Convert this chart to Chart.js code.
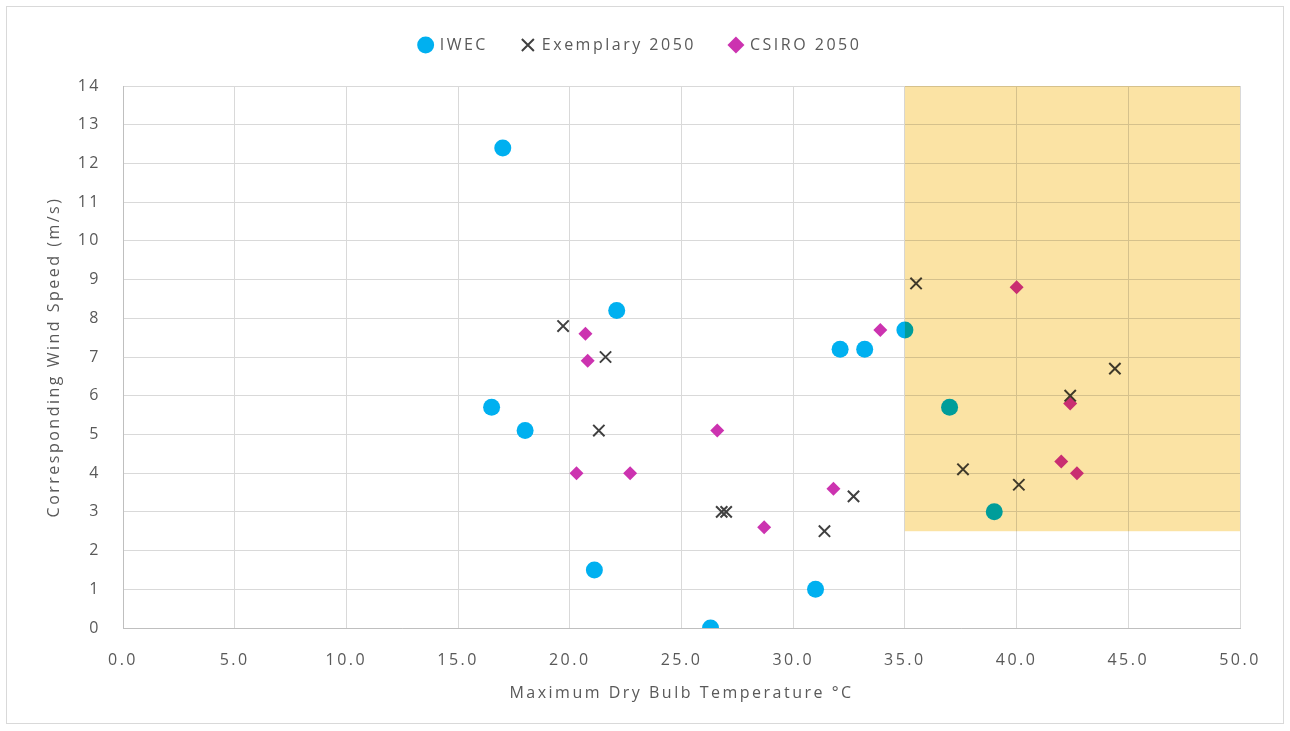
<!DOCTYPE html>
<html>
<head>
<meta charset="utf-8">
<script src="https://cdn.jsdelivr.net/npm/chart.js@4.4.1/dist/chart.umd.min.js"></script>
<style>
  body { margin: 0; background: #fff; }
  #wrap { position: absolute; left: 6px; top: 6px; width: 1276px; height: 716px; border: 1px solid #d9d9d9; }
  #c { position: absolute; left: 0; top: 0; }
</style>
</head>
<body>
<div id="wrap"></div>
<canvas id="c" width="1290" height="731"></canvas>
<script>
// series values (x = max dry bulb temp, y = wind speed)
const iwecX = [17.0, 22.1, 16.5, 18.0, 21.1, 26.3, 31.0, 32.1, 33.2, 35.0, 37.0, 39.0];
const iwecY = [12.4, 8.2, 5.7, 5.1, 1.5, 0.0, 1.0, 7.2, 7.2, 7.7, 5.7, 3.0];
const exemX = [19.7, 21.6, 21.3, 26.8, 27.0, 31.4, 32.7, 35.5, 44.4, 42.4, 37.6, 40.1];
const exemY = [7.8, 7.0, 5.1, 3.0, 3.0, 2.5, 3.4, 8.9, 6.7, 6.0, 4.1, 3.7];
const csiroX = [20.7, 20.8, 20.3, 22.7, 26.6, 28.7, 31.8, 33.9, 40.0, 42.4, 42.0, 42.7];
const csiroY = [7.6, 6.9, 4.0, 4.0, 5.1, 2.6, 3.6, 7.7, 8.8, 5.8, 4.3, 4.0];
const seriesNames = ["IWEC", "Exemplary 2050", "CSIRO 2050"];
// shaded zone: temp >= 35, wind >= 2.5
const zoneX = [35, 50];
const zoneY = [2.5, 14];

const pts = (xs, ys) => xs.map((x, i) => ({ x: x, y: ys[i] }));
const txt = "#595959";
const font = { family: "'Open Sans', 'Liberation Sans', sans-serif", size: 16 };
const spacing = "2.5px";

// the original lettering is wide, so spread the letters a bit
const spreadPlugin = {
  id: "spread",
  beforeInit(chart) {
    chart.ctx.letterSpacing = spacing;
    const lg = chart.legend;
    const fit = lg.fit;
    lg.fit = function () { fit.call(this); this.height = 69; };
  },
  beforeLayout(chart) { chart.ctx.letterSpacing = spacing; },
  afterLayout(chart) {
    // legend box is tall (to push the plot down), lift its row up
    chart.legend.top -= 14;
    chart.legend.bottom -= 14;
  },
  beforeDraw(chart) { chart.ctx.letterSpacing = spacing; }
};

const zonePlugin = {
  id: "zone",
  afterDatasetsDraw(chart) {
    const c = chart.ctx, sx = chart.scales.x, sy = chart.scales.y;
    const l = sx.getPixelForValue(zoneX[0]), r = sx.getPixelForValue(zoneX[1]);
    const t = sy.getPixelForValue(zoneY[1]), b = sy.getPixelForValue(zoneY[0]);
    c.save();
    c.globalCompositeOperation = "multiply";
    c.fillStyle = "#fbe3a4";
    c.fillRect(l, t, r - l, b - t);
    c.restore();
  }
};

new Chart(document.getElementById("c"), {
  type: "scatter",
  data: {
    datasets: [
      { label: seriesNames[0], data: pts(iwecX, iwecY), pointStyle: "circle", pointRadius: 8.5,
        backgroundColor: "#00b0f0", borderColor: "#00b0f0", borderWidth: 0 },
      { label: seriesNames[1], data: pts(exemX, exemY), pointStyle: "crossRot", pointRadius: 8,
        backgroundColor: "#404040", borderColor: "#404040", borderWidth: 2 },
      { label: seriesNames[2], data: pts(csiroX, csiroY), pointStyle: "rectRot", pointRadius: 7,
        backgroundColor: "#cc33b0", borderColor: "#cc33b0", borderWidth: 0 }
    ]
  },
  options: {
    responsive: false,
    animation: false,
    layout: { padding: { left: 41, right: 50, top: 17, bottom: 22 } },
    plugins: {
      legend: {
        position: "top",
        labels: { usePointStyle: true, boxWidth: 12, boxHeight: 12, padding: 34, color: txt, font: font }
      },
      tooltip: { enabled: false }
    },
    scales: {
      x: {
        type: "linear", min: 0, max: 50,
        ticks: { stepSize: 5, color: txt, font: font, padding: 23, callback: v => v.toFixed(1) },
        grid: { color: "#d9d9d9", drawTicks: false },
        border: { color: "#bfbfbf" },
        title: { display: true, text: "Maximum Dry Bulb Temperature °C", color: txt, font: font, padding: { top: 4, bottom: 6 } },
        afterFit(s) { s.height = 81; }
      },
      y: {
        type: "linear", min: 0, max: 14,
        ticks: { stepSize: 0.5, color: txt, font: font, padding: 22,
          callback: v => Number.isInteger(v) ? v : "" },
        grid: { color: ctx => Number.isInteger(ctx.tick.value) ? "#d9d9d9" : "#eeeeee", drawTicks: false },
        border: { color: "#bfbfbf" },
        title: { display: true, text: "Corresponding Wind Speed (m/s)", color: txt, font: font },
        afterFit(s) { s.width = 82; }
      }
    }
  },
  plugins: [spreadPlugin, zonePlugin]
});
</script>
</body>
</html>
